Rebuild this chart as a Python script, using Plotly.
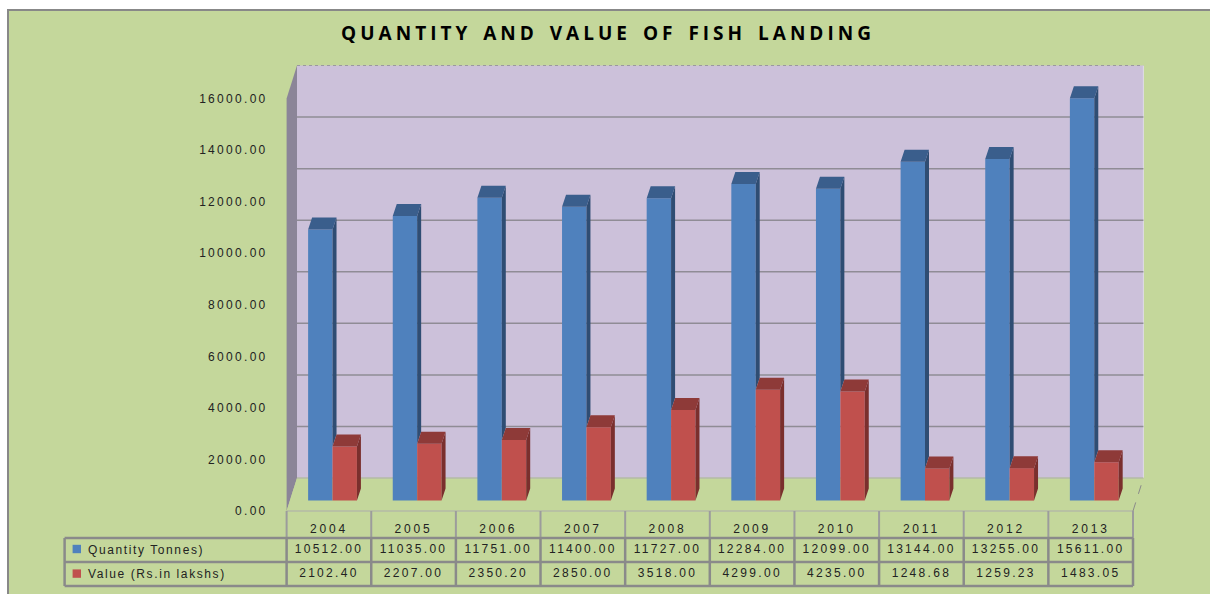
import plotly.graph_objects as go

# ---------------- data ----------------
years = ['2004', '2005', '2006', '2007', '2008', '2009', '2010', '2011', '2012', '2013']
quantity = [10512.00, 11035.00, 11751.00, 11400.00, 11727.00, 12284.00, 12099.00, 13144.00, 13255.00, 15611.00]
value = [2102.40, 2207.00, 2350.20, 2850.00, 3518.00, 4299.00, 4235.00, 1248.68, 1259.23, 1483.05]
y_ticks = [0, 2000, 4000, 6000, 8000, 10000, 12000, 14000, 16000]
series_names = ['Quantity Tonnes)', 'Value (Rs.in lakshs)']
title_text = 'QUANTITY AND VALUE OF FISH LANDING'

# ---------------- geometry / style ----------------
W, H = 1210, 594
# plot area in page pixel coordinates
PX_L, PX_R, PY_T, PY_B = 60, 1150, 40, 590
ML, MR, MT, MB = PX_L, W - PX_R, PY_T, H - PY_B
CAT_PX = 84.64          # width of a category column (px)
X0_PX = 286.6           # left edge of first category column (front plane)
ZERO_PY = 511.0         # pixel row of 0 on the front plane
PPU = 0.02578           # px per data unit (y)

def X(px):
    return (px - X0_PX) / CAT_PX - 0.5

def Y(py):
    return (ZERO_PY - py) / PPU

def PXF(px):
    return (px - PX_L) / (PX_R - PX_L)

def PYF(py):
    return (PY_B - py) / (PY_B - PY_T)

xr = [X(PX_L), X(PX_R)]
yr = [Y(PY_B), Y(PY_T)]

# full depth of the 3D box
DDX = 10.4 / CAT_PX
DDY = 33.0 / PPU
# bar plane shift (front face of bars) and bar depth
BSX = 3.6 / CAT_PX
BSY = 10.4 / PPU
BDX = 4.0 / CAT_PX
BDY = 12.0 / PPU
BW = 24.4 / CAT_PX

BG = '#C4D79B'
WALL = '#CCC1DA'
LWALL = '#8B8598'
GRID = '#8F8C95'
TBL = '#8A8A8A'
BLUE, BLUE_TOP, BLUE_SIDE = '#4F81BD', '#3A5E8C', '#2F4D73'
RED, RED_TOP, RED_SIDE = '#C0504D', '#8E3A38', '#7A2F2D'
FONT = 'Liberation Sans'
TXT = '#222222'

def spaced(s, ls=2.3):
    return f'<span style="letter-spacing:{ls}px">{s}</span>'

idx = list(range(len(years)))

fig = go.Figure()

# ---------------- bars (front faces) on the bar plane axes ----------------
fig.add_trace(go.Bar(x=idx, y=quantity, width=BW, offset=-BW, marker=dict(color=BLUE, line=dict(width=0)),
                     xaxis='x2', yaxis='y2', name=series_names[0], hoverinfo='y'))
fig.add_trace(go.Bar(x=idx, y=value, width=BW, offset=0, marker=dict(color=RED, line=dict(width=0)),
                     xaxis='x2', yaxis='y2', name=series_names[1], hoverinfo='y'))

def faces(vals, left_offset, lower=None):
    tx, ty, sx, sy = [], [], [], []
    for i, v in zip(idx, vals):
        x0 = i + left_offset
        x1 = x0 + BW
        tx += [x0, x1, x1 + BDX, x0 + BDX, x0, None]
        ty += [v, v, v + BDY, v + BDY, v, None]
        b = 0 if lower is None else lower[i]
        sx += [x1, x1, x1 + BDX, x1 + BDX, x1, None]
        sy += [b, v, v + BDY, b + BDY, b, None]
    return tx, ty, sx, sy

btx, bty, bsx, bsy = faces(quantity, -BW, lower=value)
rtx, rty, rsx, rsy = faces(value, 0)
for fx, fy, col in [(bsx, bsy, BLUE_SIDE), (btx, bty, BLUE_TOP), (rsx, rsy, RED_SIDE), (rtx, rty, RED_TOP)]:
    fig.add_trace(go.Scatter(x=fx, y=fy, mode='lines', fill='toself', fillcolor=col,
                             line=dict(width=0, color=col), xaxis='x2', yaxis='y2',
                             hoverinfo='skip', showlegend=False))

# ---------------- data table values ----------------
row_y = [Y(549.5), Y(573.5)]
fig.add_trace(go.Scatter(x=idx, y=[row_y[0]] * len(idx), mode='text',
                         text=[spaced(f'{v:.2f}') for v in quantity],
                         textfont=dict(family=FONT, size=12, color=TXT), cliponaxis=False,
                         hoverinfo='skip', showlegend=False))
fig.add_trace(go.Scatter(x=idx, y=[row_y[1]] * len(idx), mode='text',
                         text=[spaced(f'{v:.2f}') for v in value],
                         textfont=dict(family=FONT, size=12, color=TXT), cliponaxis=False,
                         hoverinfo='skip', showlegend=False))

# ---------------- shapes ----------------
shapes = []
# chart area background, with border only on top and left (rest lies outside the view)
shapes.append(dict(type='rect', xref='paper', yref='paper', x0=PXF(8), x1=PXF(1260), y0=PYF(10), y1=PYF(640),
                   fillcolor=BG, line=dict(width=0), layer='below'))
shapes.append(dict(type='line', xref='paper', yref='paper', x0=PXF(7), x1=PXF(1260), y0=PYF(10), y1=PYF(10),
                   line=dict(color='#888888', width=2), layer='below'))
shapes.append(dict(type='line', xref='paper', yref='paper', x0=PXF(8), x1=PXF(8), y0=PYF(9), y1=PYF(640),
                   line=dict(color='#888888', width=2), layer='below'))
xl, xrr = -0.5, len(years) - 0.5
top = y_ticks[-1]
# back wall
shapes.append(dict(type='rect', xref='x', yref='y', x0=xl + DDX, x1=xrr + DDX, y0=DDY, y1=top + DDY,
                   fillcolor=WALL, line=dict(width=0), layer='below'))
shapes.append(dict(type='line', xref='x', yref='y', x0=xl + DDX, x1=xrr + DDX, y0=top + DDY, y1=top + DDY,
                   line=dict(color='#9A98A0', width=1.2, dash='dot'), layer='below'))
shapes.append(dict(type='line', xref='x', yref='y', x0=xrr + DDX, x1=xrr + DDX, y0=DDY, y1=top + DDY,
                   line=dict(color='#E0DCE6', width=1), layer='below'))
# gridlines on back wall
for t in y_ticks[1:-1]:
    shapes.append(dict(type='line', xref='x', yref='y', x0=xl + DDX, x1=xrr + DDX, y0=t + DDY, y1=t + DDY,
                       line=dict(color=GRID, width=1.5), layer='below'))
# left wall
shapes.append(dict(type='path', xref='x', yref='y',
                   path=f'M {xl},{0} L {xl},{top} L {xl + DDX},{top + DDY} L {xl + DDX},{DDY} Z',
                   fillcolor=LWALL, line=dict(width=0), layer='below'))
# floor
shapes.append(dict(type='path', xref='x', yref='y',
                   path=f'M {xl},{0} L {xrr},{0} L {xrr + DDX},{DDY} L {xl + DDX},{DDY} Z',
                   fillcolor=BG, line=dict(width=0), layer='below'))
shapes.append(dict(type='line', xref='x', yref='y', x0=xl + DDX, x1=xrr + DDX, y0=DDY, y1=DDY,
                   line=dict(color='#B4BAA6', width=1.5), layer='below'))
shapes.append(dict(type='line', xref='x', yref='y', x0=xl, x1=xrr, y0=0, y1=0,
                   line=dict(color='#B4BAA6', width=1.5), layer='below'))
shapes.append(dict(type='line', xref='x', yref='y', x0=xrr, x1=xrr + DDX, y0=0, y1=DDY,
                   line=dict(color='#8A8A8A', width=1, dash='dash'), layer='below'))

# table lines
tl = X(64.6)
ty0, ty1, ty2 = Y(538), Y(562), Y(586)
for i in range(len(years) + 1):
    shapes.append(dict(type='line', xref='x', yref='y', x0=xl + i, x1=xl + i, y0=0, y1=ty0,
                       line=dict(color='#9C9C9C', width=2), layer='above'))
    shapes.append(dict(type='line', xref='x', yref='y', x0=xl + i, x1=xl + i, y0=ty0, y1=ty2,
                       line=dict(color=TBL, width=2.5), layer='above'))
shapes.append(dict(type='line', xref='x', yref='y', x0=tl, x1=tl, y0=ty0, y1=ty2,
                   line=dict(color=TBL, width=2.5), layer='above'))
for yy in (ty0, ty1, ty2):
    shapes.append(dict(type='line', xref='x', yref='y', x0=tl, x1=xrr, y0=yy, y1=yy,
                       line=dict(color=TBL, width=2.5), layer='above'))
# legend keys
for (y_a, y_b), col in [((544.8, 553.2), BLUE), ((569.4, 577.8), RED)]:
    shapes.append(dict(type='rect', xref='x', yref='y', x0=X(72.6), x1=X(81), y0=Y(y_b), y1=Y(y_a),
                       fillcolor=col, line=dict(width=0), layer='above'))

annotations = []
for name, yy in zip(series_names, row_y):
    annotations.append(dict(x=X(86), y=yy, xref='x', yref='y', text=spaced(name, 1.6), showarrow=False,
                            xanchor='left', yanchor='middle', font=dict(family=FONT, size=12, color=TXT)))

title_html = f'<span style="letter-spacing:4px;word-spacing:3px">{title_text}</span>'

fig.update_layout(
    width=W, height=H, autosize=False,
    margin=dict(l=ML, r=MR, t=MT, b=MB, pad=0),
    paper_bgcolor='white', plot_bgcolor='rgba(0,0,0,0)',
    showlegend=False, barmode='overlay', hovermode='closest',
    title=dict(text=title_html,
               x=608 / W, xref='container', xanchor='center',
               y=1 - 33 / H, yref='container', yanchor='middle',
               font=dict(family='Open Sans', size=19, color='#000000', weight='bold')),
    xaxis=dict(range=xr, anchor='free', position=PYF(520), tickvals=idx, ticktext=[spaced(y, 2.8) for y in years],
               ticks='', showline=False, showgrid=False, zeroline=False,
               tickfont=dict(family=FONT, size=12, color=TXT), fixedrange=True),
    yaxis=dict(range=yr, anchor='free', position=PXF(287), side='left', tickvals=y_ticks,
               ticktext=[spaced(f'{t:.2f}') for t in y_ticks], ticks='outside', ticklen=17,
               tickcolor='rgba(0,0,0,0)', showline=False, showgrid=False, zeroline=False,
               tickfont=dict(family=FONT, size=12, color=TXT), fixedrange=True),
    xaxis2=dict(range=[xr[0] - BSX, xr[1] - BSX], overlaying='x', anchor='y2', visible=False, fixedrange=True),
    yaxis2=dict(range=[yr[0] - BSY, yr[1] - BSY], overlaying='y', anchor='x2', visible=False, fixedrange=True),
    shapes=shapes, annotations=annotations,
)

fig.write_html('out.html', config={'displayModeBar': False},
               post_script=("document.documentElement.style.margin='0';"
                            "document.documentElement.style.overflow='hidden';"
                            "document.body.style.margin='0';document.body.style.overflow='hidden';"))
